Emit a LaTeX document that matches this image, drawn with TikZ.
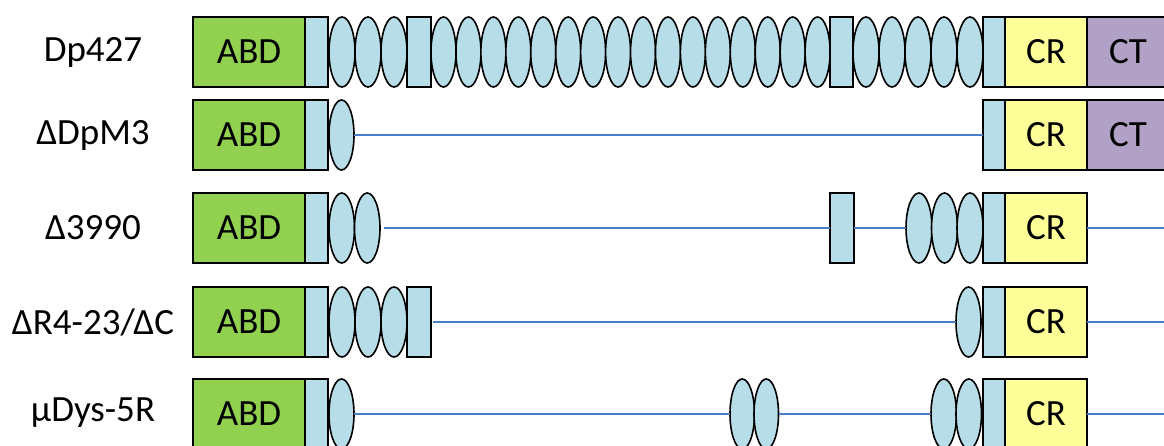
\documentclass[tikz,border=0pt]{standalone}
\usepackage{fontspec}
\setmainfont{Carlito}
\usetikzlibrary{shapes.geometric}
\definecolor{abdgreen}{HTML}{92D050}
\definecolor{repblue}{HTML}{B7DEE8}
\definecolor{cryellow}{HTML}{FFFF99}
\definecolor{ctpurple}{HTML}{B2A1C7}
\definecolor{lineblue}{HTML}{4A7EC4}
\newcommand{\labfont}{\fontsize{37}{42}\selectfont}
\tikzset{
  blk/.style={draw=black,line width=1.6pt,minimum height=70pt,inner sep=0pt,outer sep=0pt,anchor=west,font=\labfont},
  abd/.style={blk,fill=abdgreen,minimum width=112pt},
  hinge/.style={blk,fill=repblue,minimum width=23pt},
  rep/.style={blk,ellipse,fill=repblue,minimum width=26pt},
  cr/.style={blk,fill=cryellow,minimum width=82pt},
  ct/.style={blk,fill=ctpurple,minimum width=82pt},
  linker/.style={draw=lineblue,line width=1.4pt},
  lab/.style={font=\labfont}
}
\begin{document}
\begin{tikzpicture}[x=1pt,y=-1pt]
\useasboundingbox[fill=white] (0,0) rectangle (1164,446);
% Dp427
\node[lab] (l1) at (93,52) {Dp427};
\node[abd] (abd1) at (193,52) {ABD};
\node[hinge] (h1a) at (abd1.east) {};
\foreach \i in {0,1,2}{
  \node[rep] (r1a\i) at ({329+26*\i},52) {};}
\node[hinge,minimum width=24pt] (h1b) at (407,52) {};
\foreach \i in {0,...,15}{
  \node[rep,minimum width=25pt] (r1b\i) at ({431+24.94*\i},52) {};}
\node[hinge] (h1c) at (830,52) {};
\foreach \i in {0,...,4}{
  \node[rep] (r1c\i) at ({853+26*\i},52) {};}
\node[hinge,minimum width=22pt] (h1d) at (983,52) {};
\node[cr] (cr1) at (h1d.east) {CR};
\node[ct] (ct1) at (cr1.east) {CT};
% DpM3
\node[lab] (l2) at (93,135) {ΔDpM3};
\node[abd] (abd2) at (193,135) {ABD};
\node[hinge] (h2a) at (abd2.east) {};
\node[rep,minimum width=25pt] (r2a) at (329,135) {};
\node[hinge,minimum width=22pt] (h2d) at (983,135) {};
\node[cr] (cr2) at (h2d.east) {CR};
\node[ct] (ct2) at (cr2.east) {CT};
\draw[linker] (r2a.east) -- (h2d.west);
% D3990
\node[lab] (l3) at (93,228) {Δ3990};
\node[abd] (abd3) at (193,228) {ABD};
\node[hinge] (h3a) at (abd3.east) {};
\foreach \i in {0,1}{
  \node[rep,minimum width=25.5pt] (r3a\i) at ({329+25.5*\i},228) {};}
\node[hinge,minimum width=24pt] (h3c) at (830,228) {};
\foreach \i in {0,1,2}{
  \node[rep] (r3c\i) at ({906+25.5*\i},228) {};}
\node[hinge,minimum width=22pt] (h3d) at (983,228) {};
\node[cr] (cr3) at (h3d.east) {CR};
\coordinate (e3) at (1164,228);
\draw[linker] ([xshift=4pt]r3a1.east) -- (h3c.west);
\draw[linker] (h3c.east) -- (r3c0.west);
\draw[linker] (cr3.east) -- (e3);
% DR4-23/DC
\node[lab] (l4) at (93,322) {ΔR4-23/ΔC};
\node[abd] (abd4) at (193,322) {ABD};
\node[hinge] (h4a) at (abd4.east) {};
\foreach \i in {0,1,2}{
  \node[rep] (r4a\i) at ({329+26*\i},322) {};}
\node[hinge,minimum width=24pt] (h4b) at (407,322) {};
\node[rep,minimum width=25pt] (r4c) at (956,322) {};
\node[hinge,minimum width=22pt] (h4d) at (983,322) {};
\node[cr] (cr4) at (h4d.east) {CR};
\coordinate (e4) at (1164,322);
\draw[linker] ([xshift=2pt]h4b.east) -- (r4c.west);
\draw[linker] (cr4.east) -- (e4);
% uDys-5R
\node[lab] (l5) at (93,413) {µDys-5R};
\node[abd] (abd5) at (193,414) {ABD};
\node[hinge] (h5a) at (abd5.east) {};
\node[rep,minimum width=25pt] (r5a) at (329,414) {};
\foreach \i in {0,1}{
  \node[rep,minimum width=24.5pt] (r5b\i) at ({730+24*\i},414) {};}
\foreach \i in {0,1}{
  \node[rep,minimum width=25.5pt] (r5c\i) at ({931+25*\i},414) {};}
\node[hinge,minimum width=22pt] (h5d) at (983,414) {};
\node[cr] (cr5) at (h5d.east) {CR};
\coordinate (e5) at (1164,414);
\draw[linker] (r5a.east) -- (r5b0.west);
\draw[linker] (r5b1.east) -- (r5c0.west);
\draw[linker] (cr5.east) -- (e5);
\end{tikzpicture}
\end{document}
